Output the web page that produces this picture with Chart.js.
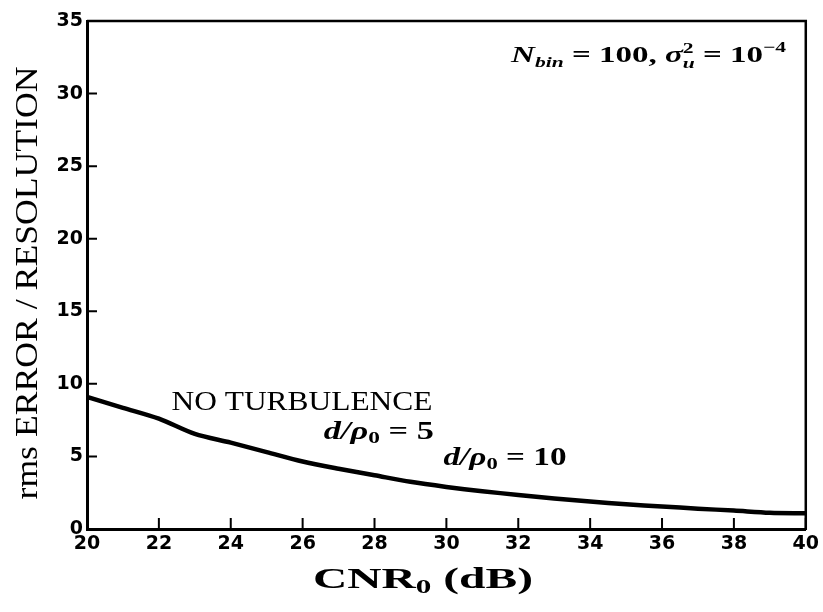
<!DOCTYPE html>
<html>
<head>
<meta charset="utf-8">
<script src="https://cdn.jsdelivr.net/npm/chart.js@4.4.1/dist/chart.umd.min.js"></script>
<style>
  html, body { margin: 0; padding: 0; background: #fff; }
</style>
</head>
<body>
<canvas id="errChart" width="823" height="612"></canvas>
<script>
// ---- values ----
const cnrDb = [20, 21, 22, 23, 24, 25, 26, 27, 28, 29, 30, 31, 32, 33, 34, 35, 36, 37, 38, 39, 40];
const rmsError = [9.1, 8.35, 7.6, 6.55, 5.95, 5.3, 4.65, 4.15, 3.7, 3.25, 2.9, 2.6, 2.35, 2.1, 1.9, 1.7, 1.55, 1.4, 1.27, 1.12, 1.08];
const xTicks = [20, 22, 24, 26, 28, 30, 32, 34, 36, 38, 40];
const yTicks = [0, 5, 10, 15, 20, 25, 30, 35];

const SERIF = '"Liberation Serif", "DejaVu Serif", serif';

// draw a run of text pieces (for sub/superscripts), stretched to a given width
function drawRich(ctx, segs, x, base, width, align) {
  let total = 0;
  segs.forEach(s => {
    ctx.font = s.font;
    s.w = ctx.measureText(s.t).width;
    if (!s.stack) total += s.w;
  });
  const sx = width / total;
  ctx.save();
  ctx.translate(x, base);
  ctx.scale(sx, 1);
  let cx = align === 'center' ? -total / 2 : 0;
  ctx.textBaseline = 'alphabetic';
  ctx.textAlign = 'left';
  segs.forEach(s => {
    ctx.font = s.font;
    ctx.fillText(s.t, cx, s.dy || 0);
    if (!s.stack) cx += s.w;
  });
  ctx.restore();
}

const figureDecor = {
  id: 'figureDecor',
  beforeDraw(chart) {
    const ctx = chart.ctx;
    ctx.save();
    ctx.fillStyle = '#fff';
    ctx.fillRect(0, 0, chart.width, chart.height);
    ctx.restore();
  },
  afterDraw(chart) {
    const { ctx, chartArea: a, scales: { x, y } } = chart;
    ctx.save();
    ctx.strokeStyle = '#000';
    ctx.fillStyle = '#000';

    // top and right edges of the box
    ctx.lineWidth = 2.5;
    ctx.beginPath();
    ctx.moveTo(a.left, a.top);
    ctx.lineTo(a.right, a.top);
    ctx.lineTo(a.right, a.bottom + 1);
    ctx.stroke();

    // inward tick marks
    ctx.lineWidth = 2;
    ctx.beginPath();
    yTicks.forEach(v => {
      const py = y.getPixelForValue(v);
      ctx.moveTo(a.left, py);
      ctx.lineTo(a.left + 10, py);
    });
    xTicks.forEach(v => {
      const px = x.getPixelForValue(v);
      ctx.moveTo(px, a.bottom);
      ctx.lineTo(px, a.bottom - 11);
    });
    ctx.stroke();

    // annotations inside the plot
    drawRich(ctx, [
      { t: 'NO TURBULENCE', font: '27px ' + SERIF }
    ], x.getPixelForValue(22.35), y.getPixelForValue(8.2), 261, 'left');

    drawRich(ctx, [
      { t: 'd', font: 'italic bold 25px ' + SERIF },
      { t: '/', font: 'italic bold 25px ' + SERIF },
      { t: 'ρ', font: 'italic bold 25px ' + SERIF },
      { t: '0', font: 'bold 17px ' + SERIF, dy: 4 },
      { t: ' = 5', font: 'bold 25px ' + SERIF }
    ], x.getPixelForValue(26.59), y.getPixelForValue(6.2), 110, 'left');

    drawRich(ctx, [
      { t: 'd', font: 'italic bold 25px ' + SERIF },
      { t: '/', font: 'italic bold 25px ' + SERIF },
      { t: 'ρ', font: 'italic bold 25px ' + SERIF },
      { t: '0', font: 'bold 17px ' + SERIF, dy: 4 },
      { t: ' = 10', font: 'bold 25px ' + SERIF }
    ], x.getPixelForValue(29.92), y.getPixelForValue(4.41), 123, 'left');

    drawRich(ctx, [
      { t: 'N', font: 'italic bold 23px ' + SERIF },
      { t: 'bin', font: 'italic bold 15px ' + SERIF, dy: 5 },
      { t: ' = 100, ', font: 'bold 23px ' + SERIF },
      { t: 'σ', font: 'italic bold 23px ' + SERIF },
      { t: '2', font: 'bold 15px ' + SERIF, dy: -9, stack: true },
      { t: 'u', font: 'italic bold 15px ' + SERIF, dy: 6 },
      { t: ' = 10', font: 'bold 23px ' + SERIF },
      { t: '−4', font: 'bold 15px ' + SERIF, dy: -10 }
    ], x.getPixelForValue(31.8), y.getPixelForValue(32.2), 275, 'left');

    // axis titles
    drawRich(ctx, [
      { t: 'CNR', font: 'bold 29px ' + SERIF },
      { t: '0', font: 'bold 19px ' + SERIF, dy: 5 },
      { t: ' (dB)', font: 'bold 29px ' + SERIF }
    ], 423, 588, 220, 'center');

    ctx.save();
    ctx.translate(37, 283);
    ctx.rotate(-Math.PI / 2);
    drawRich(ctx, [
      { t: 'rms ERROR / RESOLUTION', font: '31px ' + SERIF }
    ], 0, 0, 433, 'center');
    ctx.restore();

    ctx.restore();
  }
};

const tickFont = { family: '"DejaVu Sans", sans-serif', weight: 'bold', size: 19 };

new Chart(document.getElementById('errChart').getContext('2d'), {
  type: 'line',
  data: {
    datasets: [{
      data: cnrDb.map((c, i) => ({ x: c, y: rmsError[i] })),
      borderColor: '#000',
      borderWidth: 4.5,
      pointRadius: 0,
      tension: 0.3,
      fill: false
    }]
  },
  options: {
    responsive: false,
    animation: false,
    layout: { padding: { left: 0, right: 14, top: 21, bottom: 0 } },
    plugins: { legend: { display: false }, tooltip: { enabled: false } },
    scales: {
      x: {
        type: 'linear', min: 20, max: 40,
        afterBuildTicks: s => { s.ticks = xTicks.map(v => ({ value: v })); },
        afterFit: s => { s.height = 83; },
        grid: { display: false, drawTicks: false },
        border: { display: true, width: 3, color: '#000' },
        ticks: { font: tickFont, color: '#000', padding: 4, maxRotation: 0 }
      },
      y: {
        type: 'linear', min: 0, max: 35,
        afterBuildTicks: s => { s.ticks = yTicks.map(v => ({ value: v })); },
        afterFit: s => { s.width = 87; },
        grid: { display: false, drawTicks: false },
        border: { display: true, width: 3, color: '#000' },
        ticks: { font: tickFont, color: '#000', padding: 4 }
      }
    }
  },
  plugins: [figureDecor]
});
</script>
</body>
</html>
